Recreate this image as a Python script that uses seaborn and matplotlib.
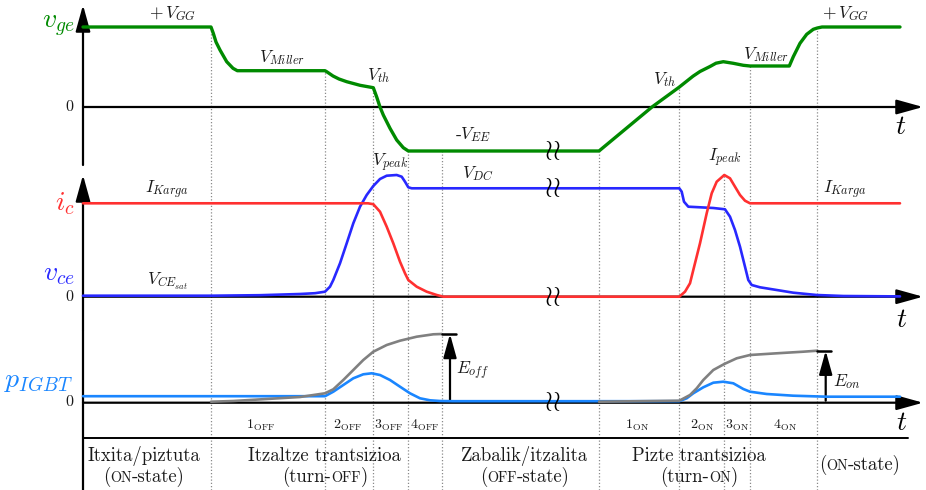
import numpy as np
import pandas as pd
import matplotlib
matplotlib.use("Agg")
import matplotlib.pyplot as plt
import seaborn as sns
from matplotlib.offsetbox import TextArea, HPacker, AnnotationBbox

# ---------------------------------------------------------------------------
# Waveforms (time in arbitrary units from the vertical axis, levels in
# arbitrary units above each trace's zero line)
# ---------------------------------------------------------------------------
t_vge = [0, 128, 130.3, 133, 137, 143.7, 150, 154.3, 242, 243.7, 250, 256, 263.7,
         277, 290.3, 293.7, 297, 300.3, 307, 313.7, 320.3, 325.3, 516, 569, 596,
         610, 617, 627, 633, 640.3, 650.3, 660.3, 667, 706.3, 710.3, 717, 723.7,
         730.3, 734.3, 739, 817]
vge = [80, 80, 73.7, 65, 57, 45.3, 38.7, 36.3, 36.3, 35.3, 31, 28, 25.3,
       21.7, 19.3, 10, 0, -8, -21.3, -33, -40.7, -44, -44, 0, 19.7,
       30.8, 35.5, 40.5, 43.8, 45.3, 43.7, 41.7, 41, 41, 50.3, 63.7, 72.7,
       77.7, 79, 80, 80]

t_vce = [0, 128, 177, 217, 232, 242, 247, 250.3, 257, 263.7, 270.3, 277, 283.7,
         290.3, 297, 303.7, 313.7, 318.7, 322, 325.3, 328.7, 596.3, 598.7, 601,
         605.3, 617, 630.3, 642, 647, 652, 657, 662, 665.3, 668.7, 677, 693.7,
         710.3, 733.7, 760.3, 817]
vce = [1, 1, 1.5, 2.7, 3.5, 5, 10, 16.7, 33.4, 53.4, 73.4, 90, 101.7,
       110.7, 117.7, 121, 121.7, 120, 115, 109.4, 108.4, 108.4, 105, 95,
       90, 89.4, 88.7, 87.4, 80, 66.7, 50, 30, 16.7, 11.7, 9.4, 6.7,
       4, 1.7, 0.7, 0.3]

t_ic = [0, 285, 290.3, 297, 303.7, 310.3, 317, 322, 325.3, 333.7, 343.7, 353.7,
        360.3, 596.3, 602, 607, 610.3, 617, 623.7, 628.7, 633.7, 641.3, 647, 652,
        657, 662, 667, 817]
ic = [93.4, 93.4, 92.5, 85, 70, 53.4, 35, 23.4, 16.7, 10, 5, 1.7,
      0, 0, 5, 13.4, 26.7, 53.4, 83.4, 103.4, 115, 121.7, 118.4, 110,
      101.7, 96, 93.4, 93.4]

t_p = [0, 242, 250.3, 260.3, 270.3, 280.3, 288.7, 297, 307, 317, 327, 337, 347,
       357, 370, 596.3, 603.7, 610.3, 620.3, 630.3, 640.3, 650.3, 660.3, 667,
       683.7, 710.3, 743.7, 817]
p_igbt = [5.5, 5.5, 10, 16.7, 23.4, 27.4, 28.4, 26.7, 21.7, 15, 8.4, 3.4, 1.4,
          0.7, 0.5, 0.5, 3.4, 8.4, 14.4, 19, 20, 18.4, 12.7, 10,
          7.7, 6, 5, 5]

t_eoff = [128, 150.3, 183.7, 217, 242, 250.3, 260.3, 270.3, 280.3, 290.3, 303.7,
          317, 333.7, 350.3, 358.7]
e_off = [0, 0.7, 2.7, 4.7, 8.4, 12.4, 21.7, 31.7, 41.7, 50, 56.7,
         61, 65, 67.4, 67.7]

t_eon = [516, 596.3, 607, 613.7, 620.3, 630.3, 641.3, 653.7, 667, 693.7, 720.3, 734.3]
e_on = [0, 1, 6.7, 13.4, 21.7, 31.7, 37.7, 43.4, 46.7, 48.4, 50, 51]

# interval boundaries
t_bounds = [128, 242, 290.3, 325.3, 358.7, 516, 596.3, 667, 734.3]
t_ipeak = 641.3
t_break = 470

phase_num = ["1", "2", "3", "4"]
phase_off_t = [178, 264.5, 306, 342]
phase_on_t = [554, 618.7, 653.7, 702]

# ---------------------------------------------------------------------------
sns.set_theme(style="white")
plt.rcParams.update({
    "mathtext.fontset": "cm",
    "font.family": ["cmr10", "DejaVu Serif"],
    "axes.unicode_minus": False,
})

GREEN = "#008a00"
RED = "#ff3030"
BLUE = "#2828ff"
PBLUE = "#1a86ff"
GRAY = "#808080"
TXT = "#1a1a1a"
DOT = "#8a8a8a"

W, H = 926, 490
fig = plt.figure(figsize=(W / 100, H / 100), dpi=100)
fig.patch.set_facecolor("white")


def panel(top_px, bottom_px, zero_px):
    ax = fig.add_axes([0, 1 - bottom_px / H, 1, (bottom_px - top_px) / H])
    ax.set_xlim(-83, 843)
    ax.set_ylim(zero_px - bottom_px, zero_px - top_px)
    ax.set_axis_off()
    return ax


ax_g = panel(0, 165, 107)
ax_m = panel(165, 330, 296.7)
ax_p = panel(330, 490, 401.7)

AX_LW = 1.6


def arrow(ax, start, tip, scale=18):
    ax.annotate("", xy=tip, xytext=start, annotation_clip=False,
                arrowprops=dict(arrowstyle="-|>,head_length=0.9,head_width=0.25",
                                mutation_scale=scale, lw=AX_LW, color="black",
                                shrinkA=0, shrinkB=0), zorder=3)


def lab(ax, t, h, s, size=12.5, color=TXT, ha="center", va="center"):
    ax.text(t, h, s, fontsize=size, color=color, ha=ha, va=va, zorder=6)


def sc_label(ax, t, h, parts, size=13.5):
    boxes = [TextArea(s, textprops=dict(fontsize=size * 0.76 if small else size,
                                        color=TXT, family="cmr10"))
             for s, small in parts]
    pack = HPacker(children=boxes, align="baseline", pad=0, sep=0)
    ab = AnnotationBbox(pack, (t, h), xycoords="data", frameon=False,
                        box_alignment=(0.5, 0.5), pad=0, annotation_clip=False)
    ax.add_artist(ab)


def break_mark(ax, h):
    lab(ax, t_break, h, r"$\wr\!\wr$", size=21, color="black")


dot_kw = dict(color=DOT, lw=0.9, linestyles=(0, (1, 1.6)), zorder=1)

# ---------------- gate-emitter voltage ----------------
g_lo, g_hi = ax_g.get_ylim()
ax_g.vlines(t_bounds, g_lo, np.interp(t_bounds, t_vge, vge), **dot_kw)
arrow(ax_g, (0, g_lo), (0, 102))
arrow(ax_g, (0, 0), (840, 0))
sns.lineplot(x=t_vge, y=vge, ax=ax_g, color=GREEN, lw=2.4, estimator=None,
             sort=False, zorder=4)
lab(ax_g, -8, 81.5, r"$v_{ge}$", size=20, color=GREEN, ha="right")
lab(ax_g, -10, 0, "0", size=11.5, ha="right")
lab(ax_g, 818, -20, r"$t$", size=20, color="black")
lab(ax_g, 89, 93, r"$+\,V_{GG}$")
lab(ax_g, 762.5, 93, r"$+\,V_{GG}$")
lab(ax_g, 199, 49, r"$V_{Miller}$")
lab(ax_g, 683.5, 52, r"$V_{Miller}$")
lab(ax_g, 296, 31, r"$V_{th}$")
lab(ax_g, 582, 27, r"$V_{th}$")
lab(ax_g, 390, -28, r"-$V_{EE}$")
break_mark(ax_g, -44)

# ---------------- collector current / voltage ----------------
m_lo, m_hi = ax_m.get_ylim()
ax_m.vlines(t_bounds, m_lo, m_hi, **dot_kw)
ax_m.vlines([t_ipeak], m_lo, np.interp(t_ipeak, t_ic, ic), **dot_kw)
arrow(ax_m, (0, m_lo), (0, 121.7))
arrow(ax_m, (0, 0), (840, 0))
sns.lineplot(x=t_vce, y=vce, ax=ax_m, color=BLUE, lw=1.9, estimator=None,
             sort=False, zorder=4)
sns.lineplot(x=t_ic, y=ic, ax=ax_m, color=RED, lw=1.9, estimator=None,
             sort=False, zorder=4)
lab(ax_m, -8, 93.4, r"$i_{c}$", size=20, color=RED, ha="right")
lab(ax_m, -8, 22.7, r"$v_{ce}$", size=20, color=BLUE, ha="right")
lab(ax_m, -10, 0, "0", size=11.5, ha="right")
lab(ax_m, 818.7, -23.3, r"$t$", size=20, color="black")
lab(ax_m, 84, 107, r"$I_{Karga}$")
lab(ax_m, 762, 106.7, r"$I_{Karga}$")
lab(ax_m, 85, 15, r"$V_{CE_{sat}}$")
lab(ax_m, 307, 134, r"$V_{peak}$")
lab(ax_m, 395, 123, r"$V_{DC}$")
lab(ax_m, 642, 138.7, r"$I_{peak}$")
break_mark(ax_m, 108.4)
break_mark(ax_m, 0)

# ---------------- power / energy ----------------
p_lo, p_hi = ax_p.get_ylim()
ax_p.vlines(t_bounds + [t_ipeak], p_lo, p_hi, **dot_kw)
ax_p.plot([0, 0], [p_lo, p_hi], color="black", lw=AX_LW, zorder=3)
arrow(ax_p, (0, -1), (840, -1))
ax_p.plot([0, 825], [-36.3, -36.3], color="black", lw=1.4, zorder=3)
sns.lineplot(x=t_p, y=p_igbt, ax=ax_p, color=PBLUE, lw=1.9, estimator=None,
             sort=False, zorder=4)
sns.lineplot(x=t_eoff, y=e_off, ax=ax_p, color=GRAY, lw=1.9, estimator=None,
             sort=False, zorder=5)
sns.lineplot(x=t_eon, y=e_on, ax=ax_p, color=GRAY, lw=1.9, estimator=None,
             sort=False, zorder=5)

# energy markers
ax_p.plot([t_eoff[-1], t_eoff[-1] + 14.3], [e_off[-1]] * 2, color="black", lw=1.8, zorder=6)
arrow(ax_p, (t_eoff[-1] + 8.3, 0), (t_eoff[-1] + 8.3, e_off[-1]), scale=16)
ax_p.plot([t_eon[-1], t_eon[-1] + 13.4], [e_on[-1]] * 2, color="black", lw=1.8, zorder=6)
arrow(ax_p, (t_eon[-1] + 8.4, 1), (t_eon[-1] + 8.4, e_on[-1]), scale=16)
lab(ax_p, t_eoff[-1] + 14, 30.7, r"$E_{off}$", ha="left")
lab(ax_p, t_eon[-1] + 16, 19.7, r"$E_{on}$", ha="left")

lab(ax_p, -10, 20.7, r"$p_{IGBT}$", size=20, color=PBLUE, ha="right")
lab(ax_p, -10, 0, "0", size=11.5, ha="right")
lab(ax_p, 818.7, -21.3, r"$t$", size=20, color="black")
break_mark(ax_p, 0)

for n, t in zip(phase_num, phase_off_t):
    lab(ax_p, t, -23.5, rf"${n}_{{\mathrm{{OFF}}}}$", size=10)
for n, t in zip(phase_num, phase_on_t):
    lab(ax_p, t, -23.5, rf"${n}_{{\mathrm{{ON}}}}$", size=10)

# operating states
L1, L2 = -54.5, -75
sc_label(ax_p, 61, L1, [("Itxita/piztuta", False)])
sc_label(ax_p, 61, L2, [("(", False), ("ON", True), ("-state)", False)])
sc_label(ax_p, 241, L1, [("Itzaltze trantsizioa", False)])
sc_label(ax_p, 242, L2, [("(turn-", False), ("OFF", True), (")", False)])
sc_label(ax_p, 442, L1, [("Zabalik/itzalita", False)])
sc_label(ax_p, 442, L2, [("(", False), ("OFF", True), ("-state)", False)])
sc_label(ax_p, 616, L1, [("Pizte trantsizioa", False)])
sc_label(ax_p, 616, L2, [("(turn-", False), ("ON", True), (")", False)])
sc_label(ax_p, 777, -63.3, [("(", False), ("ON", True), ("-state)", False)])

fig.savefig("out.png", dpi=100, facecolor="white")
